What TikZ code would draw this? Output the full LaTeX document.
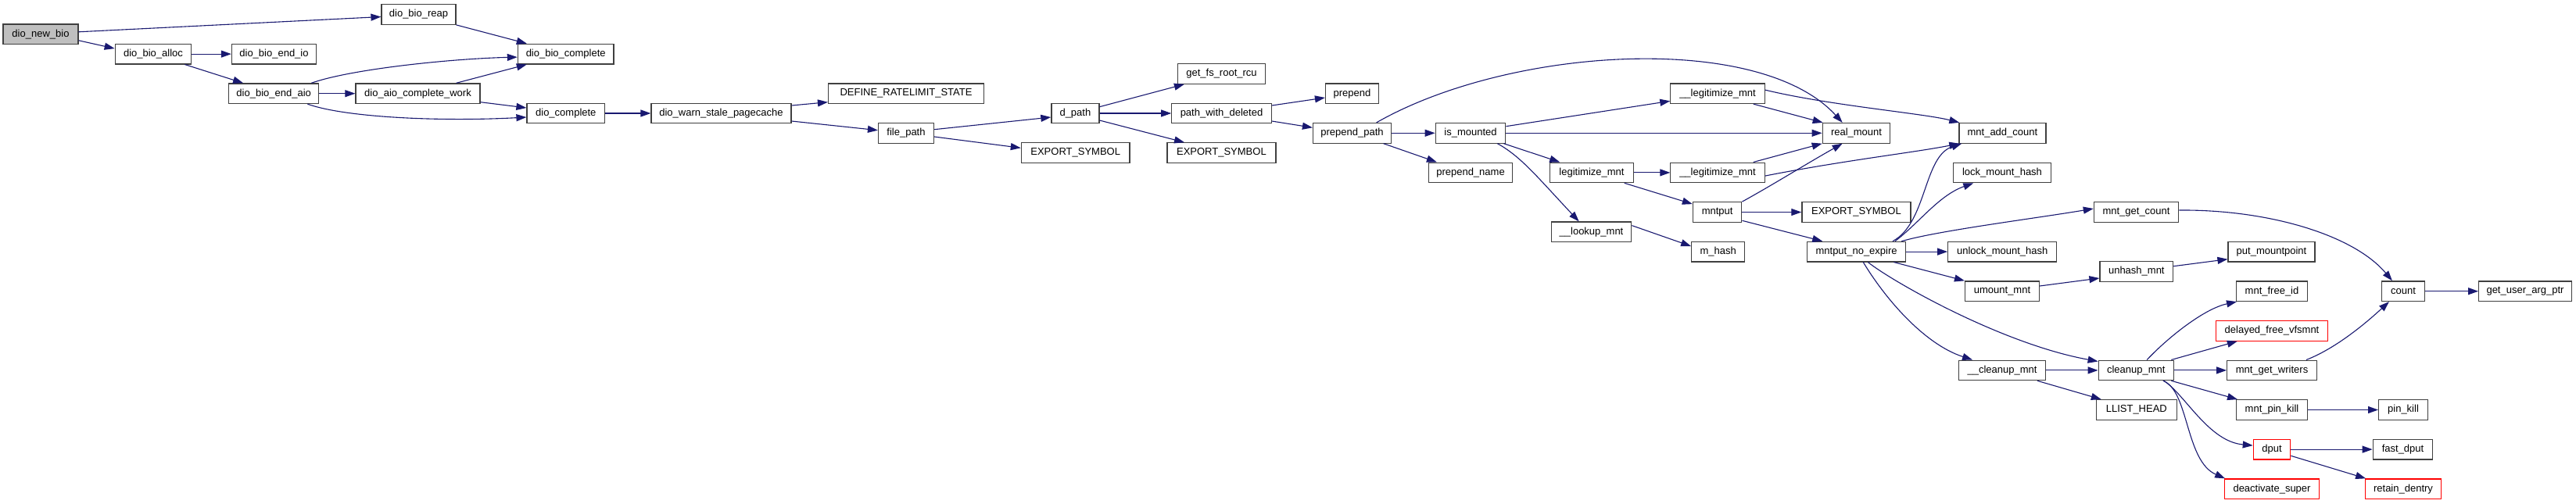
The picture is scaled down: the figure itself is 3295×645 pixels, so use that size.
\documentclass[tikz,border=0pt]{standalone}
\usepackage{fontspec}
\setmainfont{Liberation Sans}
\usetikzlibrary{arrows.meta}
\definecolor{mblue}{HTML}{191970}
\definecolor{rootgray}{HTML}{BFBFBF}
\definecolor{boxline}{HTML}{404040}
\tikzset{
  box/.style={draw=boxline, line width=1.2pt, fill=white, minimum height=25.6pt, inner xsep=2pt, inner ysep=1pt, font=\fontsize{13}{15}\selectfont},
  rootbox/.style={box, fill=rootgray},
  redbox/.style={box, draw=red},
  e/.style={draw=mblue, line width=1.1pt, -{Triangle[length=13pt,width=9pt]}}
}
\begin{document}
\begin{tikzpicture}[x=1pt,y=-1pt]
\useasboundingbox (0,0) rectangle (3295,645);
% nodes
\node[rootbox, minimum width=96pt] (newbio) at (52,43.8) {dio\_new\_bio};
\node[box, minimum width=95pt] (reap) at (535.5,18.5) {dio\_bio\_reap};
\node[box, minimum width=97.5pt] (alloc) at (196,69.1) {dio\_bio\_alloc};
\node[box, minimum width=108pt] (endio) at (350.5,69.1) {dio\_bio\_end\_io};
\node[box, minimum width=122.6pt] (biocomplete) at (723.7,69.1) {dio\_bio\_complete};
\node[box, minimum width=115pt] (endaio) at (350.2,119.7) {dio\_bio\_end\_aio};
\node[box, minimum width=159pt] (aiowork) at (534.5,119.7) {dio\_aio\_complete\_work};
\node[box, minimum width=99.6pt] (complete) at (723.8,145.0) {dio\_complete};
\node[box, minimum width=179pt] (warn) at (922.5,145.0) {dio\_warn\_stale\_pagecache};
\node[box, minimum width=199pt] (ratelimit) at (1159,119.7) {DEFINE\_RATELIMIT\_STATE};
\node[box, minimum width=71pt] (filepath) at (1159,170.3) {file\_path};
\node[box, minimum width=61pt] (dpath) at (1375.4,145.0) {d\_path};
\node[box, minimum width=138.7pt] (exp1) at (1375.7,195.6) {EXPORT\_SYMBOL};
\node[box, minimum width=112pt] (getfs) at (1562.5,94.4) {get\_fs\_root\_rcu};
\node[box, minimum width=127.4pt] (pwd) at (1562.5,145.0) {path\_with\_deleted};
\node[box, minimum width=139pt] (exp2) at (1562.4,195.6) {EXPORT\_SYMBOL};
\node[box, minimum width=68pt] (prepend) at (1729.5,119.7) {prepend};
\node[box, minimum width=100pt] (ppath) at (1729.5,170.3) {prepend\_path};
\node[box, minimum width=89.5pt] (ismounted) at (1881,170.3) {is\_mounted};
\node[box, minimum width=107pt] (pname) at (1881,220.9) {prepend\_name};
\node[box, minimum width=120.3pt] (legit1) at (2197,119.7) {\_\_legitimize\_mnt};
\node[box, minimum width=86.5pt] (realmount) at (2374.5,170.3) {real\_mount};
\node[box, minimum width=106.3pt] (legitimize) at (2036,220.9) {legitimize\_mnt};
\node[box, minimum width=120.3pt] (legit2) at (2197,220.9) {\_\_legitimize\_mnt};
\node[box, minimum width=62.4pt] (mntput) at (2196.6,271.5) {mntput};
\node[box, minimum width=139pt] (exp3) at (2374.4,271.5) {EXPORT\_SYMBOL};
\node[box, minimum width=102.5pt] (lookup) at (2035.5,296.8) {\_\_lookup\_mnt};
\node[box, minimum width=67.7pt] (mhash) at (2197.6,322.1) {m\_hash};
\node[box, minimum width=125.5pt] (mne) at (2374.6,322.1) {mntput\_no\_expire};
\node[box, minimum width=111pt] (addcount) at (2561.4,170.3) {mnt\_add\_count};
\node[box, minimum width=124.3pt] (lockmh) at (2561,220.9) {lock\_mount\_hash};
\node[box, minimum width=108.3pt] (getcount) at (2732.5,271.5) {mnt\_get\_count};
\node[box, minimum width=139pt] (unlockmh) at (2561.2,322.1) {unlock\_mount\_hash};
\node[box, minimum width=111pt] (putmp) at (2905.5,322.1) {put\_mountpoint};
\node[box, minimum width=93.6pt] (unhash) at (2732.8,347.4) {unhash\_mnt};
\node[box, minimum width=95pt] (umount) at (2561,372.7) {umount\_mnt};
\node[box, minimum width=90.8pt] (freeid) at (2906,372.7) {mnt\_free\_id};
\node[box, minimum width=55pt] (count) at (3074,372.7) {count};
\node[box, minimum width=118.7pt] (guap) at (3230,372.7) {get\_user\_arg\_ptr};
\node[box, minimum width=110.7pt] (ucleanup) at (2561,473.9) {\_\_cleanup\_mnt};
\node[box, minimum width=96pt] (cleanup) at (2732.2,473.9) {cleanup\_mnt};
\node[redbox, minimum width=143.2pt] (delayed) at (2906,423.3) {delayed\_free\_vfsmnt};
\node[box, minimum width=114.7pt] (getwriters) at (2906,473.9) {mnt\_get\_writers};
\node[box, minimum width=102.8pt] (llist) at (2732.8,524.5) {LLIST\_HEAD};
\node[box, minimum width=90.8pt] (pinkill) at (2906,524.5) {mnt\_pin\_kill};
\node[box, minimum width=62.8pt] (pin) at (3074,524.5) {pin\_kill};
\node[redbox, minimum width=47.4pt] (dput) at (2906,575.1) {dput};
\node[box, minimum width=76.5pt] (fastdput) at (3073.5,575.1) {fast\_dput};
\node[redbox, minimum width=121.6pt] (deact) at (2906,625.7) {deactivate\_super};
\node[redbox, minimum width=97.6pt] (retain) at (3074,625.7) {retain\_dentry};
% edges
\draw[e] ([yshift=3pt]newbio.east) -- ([yshift=-3pt]reap.west);
\draw[e] ([yshift=-8pt]newbio.east) -- ([yshift=7pt]alloc.west);
\draw[e] (reap.south east) -- ([xshift=12pt]biocomplete.north west);
\draw[e] (alloc.east) -- (endio.west);
\draw[e] ([xshift=-9pt]alloc.south east) -- ([xshift=19pt]endaio.north west);
\draw[e] ([xshift=-10pt]endaio.north east) .. controls (450,88) and (580,75) .. ([yshift=-4pt]biocomplete.west);
\draw[e] (endaio.east) -- (aiowork.west);
\draw[e] ([xshift=-15pt]endaio.south east) .. controls (440,150) and (560,156) .. ([yshift=-5pt]complete.west);
\draw[e] ([xshift=-31pt]aiowork.north east) -- ([xshift=12pt]biocomplete.south west);
\draw[e] ([yshift=-11pt]aiowork.east) -- ([yshift=7pt]complete.west);
\draw[e] (complete.east) -- (warn.west);
\draw[e] ([yshift=10pt]warn.east) -- ([yshift=-11pt]ratelimit.west);
\draw[e] ([yshift=-10pt]warn.east) -- ([yshift=3.6pt]filepath.west);
\draw[e] ([yshift=4.6pt]filepath.east) -- ([yshift=-5pt]dpath.west);
\draw[e] ([yshift=-4.7pt]filepath.east) -- ([yshift=6.3pt]exp1.west);
\draw[e] ([yshift=8.3pt]dpath.east) -- ([xshift=9pt]getfs.south west);
\draw[e] (dpath.east) -- (pwd.west);
\draw[e] ([yshift=-9pt]dpath.east) -- ([xshift=22.7pt]exp2.north west);
\draw[e] ([yshift=10pt]pwd.east) -- ([yshift=-5.3pt]prepend.west);
\draw[e] ([yshift=-10pt]pwd.east) -- ([yshift=7pt]ppath.west);
\draw[e] ([xshift=-19.5pt]ppath.north east) .. controls (1930,60) and (2250,40) .. ([xshift=26pt]realmount.north west);
\draw[e] (ppath.east) -- (ismounted.west);
\draw[e] ([xshift=-10.5pt]ppath.south east) -- ([xshift=11pt]pname.north west);
\draw[e] ([yshift=8.6pt]ismounted.east) -- ([yshift=-9.6pt]legit1.west);
\draw[e] (ismounted.east) -- (realmount.west);
\draw[e] ([xshift=-3pt]ismounted.south east) -- ([xshift=13pt]legitimize.north west);
\draw[e] ([xshift=-11pt]ismounted.south east) .. controls (1945,200) and (1965,225) .. ([xshift=36pt]lookup.north west);
\draw[e] ([xshift=-15pt]legit1.south east) -- ([xshift=1pt]realmount.north west);
\draw[e] ([yshift=4.6pt]legit1.east) .. controls (2340,135) and (2460,145) .. ([xshift=1pt]addcount.north west);
\draw[e] (legitimize.east) -- (legit2.west);
\draw[e] ([xshift=-12pt]legitimize.south east) -- ([yshift=-3pt]mntput.north west);
\draw[e] ([xshift=-15pt]legit2.north east) -- (realmount.south west);
\draw[e] ([yshift=-4.2pt]legit2.east) .. controls (2360,205) and (2450,195) .. ([xshift=1pt]addcount.south west);
\draw[e] (mntput.north east) .. controls (2265,238) and (2310,210) .. ([xshift=26pt]realmount.south west);
\draw[e] (mntput.east) -- (exp3.west);
\draw[e] ([yshift=2.6pt]mntput.south east) -- ([xshift=20pt]mne.north west);
\draw[e] ([yshift=8.2pt]lookup.east) -- ([yshift=7pt]mhash.west);
\draw[e] ([xshift=-17pt]mne.north east) .. controls (2465,285) and (2460,200) .. ([xshift=4pt]addcount.south west);
\draw[e] ([xshift=-14pt]mne.north east) .. controls (2455,285) and (2480,250) .. ([xshift=26pt]lockmh.south west);
\draw[e] ([xshift=-5.7pt]mne.north east) .. controls (2480,295) and (2600,280) .. ([yshift=4.5pt]getcount.west);
\draw[e] (mne.east) -- (unlockmh.west);
\draw[e] ([xshift=-15.7pt]mne.south east) -- (umount.north west);
\draw[e] ([xshift=78pt]mne.south west) .. controls (2420,360) and (2560,440) .. ([yshift=-2pt]cleanup.north west);
\draw[e] ([xshift=72pt]mne.south west) .. controls (2410,380) and (2460,440) .. ([xshift=18pt]ucleanup.north west);
\draw[e] ([yshift=6.7pt]umount.east) -- ([yshift=-8.6pt]unhash.west);
\draw[e] ([yshift=6.7pt]unhash.east) -- ([yshift=-9.6pt]putmp.west);
\draw[e] ([yshift=2.5pt]getcount.east) .. controls (2900,268) and (3010,300) .. ([xshift=14pt]count.north west);
\draw[e] (count.east) -- (guap.west);
\draw[e] (ucleanup.east) -- (cleanup.west);
\draw[e] ([xshift=-11pt]ucleanup.south east) -- ([xshift=7pt]llist.north west);
\draw[e] ([xshift=62.5pt]cleanup.north west) .. controls (2775,430) and (2820,395) .. ([xshift=1pt]freeid.south west);
\draw[e] ([xshift=-3.5pt]cleanup.north east) -- ([xshift=28pt]delayed.south west);
\draw[e] (cleanup.east) -- (getwriters.west);
\draw[e] ([xshift=-3.5pt]cleanup.south east) -- ([xshift=2pt]pinkill.north west);
\draw[e] ([xshift=-13pt]cleanup.south east) .. controls (2795,505) and (2825,565) .. ([yshift=5pt]dput.west);
\draw[e] ([xshift=-14pt]cleanup.south east) .. controls (2800,500) and (2795,590) .. ([xshift=1.5pt]deact.north west);
\draw[e] ([xshift=-14pt]getwriters.north east) .. controls (2990,445) and (3030,410) .. ([xshift=10pt]count.south west);
\draw[e] (pinkill.east) -- (pin.west);
\draw[e] (dput.east) -- (fastdput.west);
\draw[e] ([yshift=-8.2pt]dput.east) -- ([xshift=1.5pt]retain.north west);
\end{tikzpicture}
\end{document}
